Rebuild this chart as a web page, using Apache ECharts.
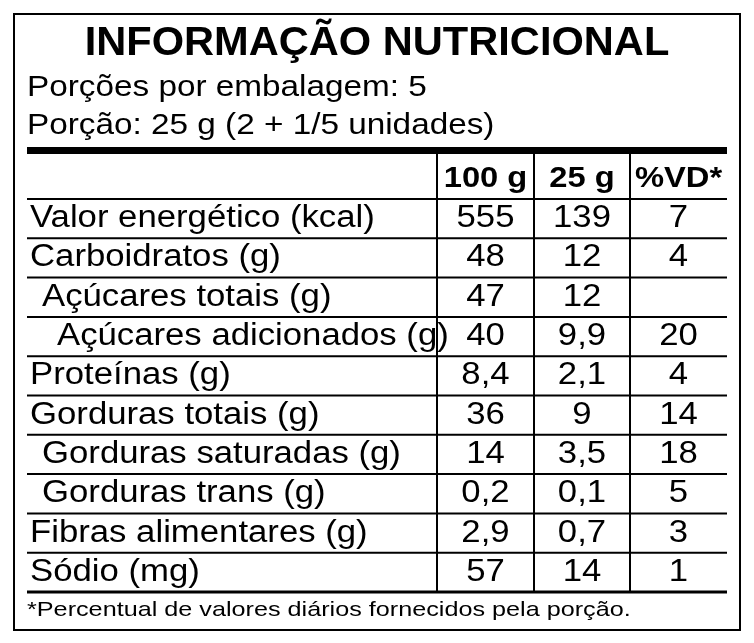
<!DOCTYPE html>
<html><head><meta charset="utf-8">
<script src="https://cdn.jsdelivr.net/npm/echarts@6/dist/echarts.min.js"></script>
<style>html,body{margin:0;padding:0;background:#fff}#c{width:754px;height:643px}</style>
</head><body><div id="c"></div>
<script>
const title = "INFORMAÇÃO NUTRICIONAL";
const subLines = ["Porções por embalagem: 5", "Porção: 25 g (2 + 1/5 unidades)"];
const headers = ["100 g", "25 g", "%VD*"];
const labels = ["Valor energético (kcal)", "Carboidratos (g)", "Açúcares totais (g)", "Açúcares adicionados (g)", "Proteínas (g)", "Gorduras totais (g)", "Gorduras saturadas (g)", "Gorduras trans (g)", "Fibras alimentares (g)", "Sódio (mg)"];
const indent = [0, 0, 1, 2, 0, 0, 1, 1, 0, 0];
const per100 = ["555", "48", "47", "40", "8,4", "36", "14", "0,2", "2,9", "57"];
const per25 = ["139", "12", "12", "9,9", "2,1", "9", "3,5", "0,1", "0,7", "14"];
const vd = ["7", "4", "", "20", "4", "14", "18", "5", "3", "1"];
const footnote = "*Percentual de valores diários fornecidos pela porção.";

const F = '"Liberation Sans", Arial, sans-serif';
const L = 27, R = 727, colX = [437, 534, 630, 727];
const headTop = 158, headBot = 199, rowH = 39.3;
const els = [];
function txt(x,y,t,font,align,sx){
  els.push({type:'text', x:x, y:y, scaleX:sx, style:{text:t, font:font, fill:'#000', align:align, verticalAlign:'middle'}});
}
els.push({type:'rect', shape:{x:14,y:14,width:726,height:616}, style:{fill:'none',stroke:'#000',lineWidth:2}});
txt(377,44,title,'bold 40px '+F,'center',1.04);
subLines.forEach((t,i)=>txt(27,88+i*38,t,'30px '+F,'left',1.11));
els.push({type:'rect', shape:{x:L,y:147,width:R-L,height:7}, style:{fill:'#000'}});
const bottom = headBot + rowH*labels.length;
[0,1,2].forEach(i=>els.push({type:'line', shape:{x1:colX[i],y1:154,x2:colX[i],y2:bottom}, style:{stroke:'#000',lineWidth:2}}));
headers.forEach((h,i)=>txt((colX[i]+colX[i+1])/2,(headTop+headBot)/2,h,'bold 30px '+F,'center',1.09));
els.push({type:'line', shape:{x1:L,y1:headBot,x2:R,y2:headBot}, style:{stroke:'#000',lineWidth:2}});
labels.forEach((lab,i)=>{
  const y0 = headBot + rowH*i, yc = y0 + rowH/2;
  els.push({type:'line', shape:{x1:L,y1:y0+rowH,x2:R,y2:y0+rowH}, style:{stroke:'#000',lineWidth:i===labels.length-1?3:2}});
  txt(30+[0,12,27][indent[i]], yc, lab, '31px '+F, 'left', 1.12);
  [per100[i], per25[i], vd[i]].forEach((v,j)=>txt((colX[j]+colX[j+1])/2, yc, v, '31px '+F, 'center', 1.12));
});
txt(27,610,footnote,'21px '+F,'left',1.2);
const chart = echarts.init(document.getElementById('c'), null, {renderer:'canvas'});
chart.setOption({animation:false, backgroundColor:'#fff', graphic:{elements:els}});
</script></body></html>
